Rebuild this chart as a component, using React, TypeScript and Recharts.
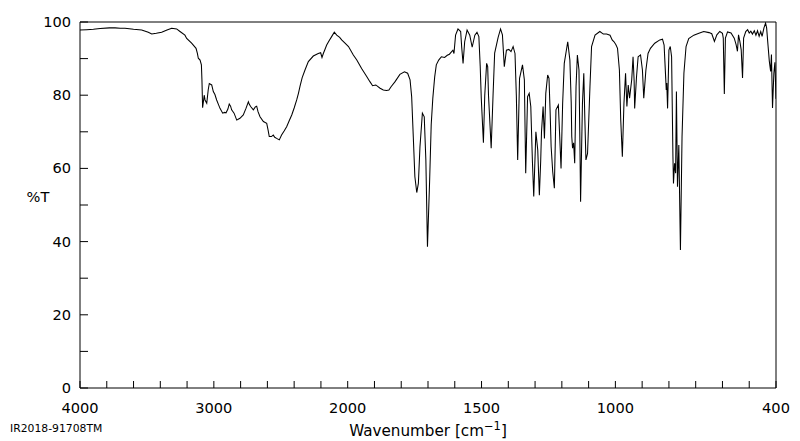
import React from 'react';
import { LineChart, Line, XAxis, YAxis, ReferenceArea } from 'recharts';

const wavenumbers = [
  4000, 3950, 3900, 3850, 3780, 3738, 3700, 3664, 3600, 3539, 3490, 3464, 3430, 3390, 3350, 3315, 3278, 3253,
  3216, 3203, 3166, 3133, 3123, 3116, 3103, 3093, 3089, 3084, 3077, 3072, 3066, 3053, 3042, 3034, 3025, 3016,
  3004, 2992, 2979, 2966, 2954, 2934, 2920, 2909, 2895, 2885, 2875, 2867, 2849, 2829, 2815, 2805, 2780, 2760,
  2742, 2735, 2725, 2705, 2690, 2680, 2670, 2655, 2630, 2605, 2595, 2586, 2570, 2556, 2545, 2531, 2511, 2494,
  2475, 2456, 2437, 2418, 2400, 2381, 2368, 2356, 2340, 2319, 2294, 2257, 2220, 2202, 2192, 2182, 2170, 2157,
  2140, 2120, 2100, 2082, 2060, 2045, 2020, 1997, 1979, 1966, 1948, 1929, 1917, 1907, 1895, 1879, 1867, 1855,
  1846, 1838, 1823, 1805, 1788, 1776, 1767, 1761, 1755, 1749, 1742, 1736, 1730, 1721, 1714, 1708, 1702, 1694,
  1688, 1682, 1675, 1669, 1660, 1650, 1638, 1628, 1620, 1607, 1603, 1597, 1588, 1578, 1574, 1569, 1563, 1554,
  1544, 1535, 1525, 1517, 1510, 1505, 1501, 1493, 1488, 1481, 1477, 1474, 1464, 1457, 1451, 1438, 1429, 1422,
  1415, 1407, 1398, 1390, 1382, 1375, 1370, 1365, 1358, 1347, 1340, 1335, 1328, 1322, 1316, 1310, 1305, 1297,
  1290, 1284, 1279, 1276, 1270, 1265, 1260, 1253, 1248, 1244, 1240, 1234, 1228, 1222, 1213, 1208, 1203, 1197,
  1191, 1178, 1170, 1165, 1163, 1160, 1156, 1152, 1147, 1142, 1136, 1133, 1130, 1123, 1118, 1114, 1110, 1104,
  1095, 1089, 1076, 1058, 1045, 1033, 1020, 1012, 1005, 998, 992, 985, 980, 974, 968, 962, 957, 952,
  947, 939, 934, 930, 928, 921, 915, 906, 899, 894, 886, 878, 869, 853, 834, 824, 818, 812,
  810, 808, 805, 800, 795, 790, 785, 783, 779, 775, 772, 768, 763, 757, 751, 744, 736, 726,
  707, 688, 670, 650, 640, 630, 621, 610, 600, 597, 593, 589, 581, 568, 556, 549, 544, 540,
  535, 530, 525, 521, 513, 506, 500, 494, 488, 481, 475, 469, 463, 457, 452, 445, 439, 435,
  430, 425, 420, 417, 413, 408, 404, 400,
];

const transmittance = [
  97.8, 97.9, 98.0, 98.2, 98.4, 98.4, 98.3, 98.3, 98.0, 97.8, 97.2, 96.7, 96.9, 97.2, 97.8, 98.3, 98.1, 97.4,
  96.4, 95.5, 94.2, 92.8, 91.4, 90.1, 89.6, 88.3, 84.2, 76.6, 78.5, 80.0, 78.7, 77.8, 81.5, 83.2, 83.0, 82.8,
  81.0, 80.2, 78.7, 77.5, 76.4, 75.1, 75.3, 75.2, 76.2, 77.6, 77.0, 76.0, 75.1, 73.2, 73.5, 73.7, 74.6, 76.4,
  78.2, 77.5, 76.9, 76.0, 76.8, 77.0, 75.5, 74.1, 72.8, 72.3, 70.5, 68.7, 68.7, 69.1, 68.5, 68.2, 67.8, 69.1,
  70.2, 71.4, 73.0, 74.6, 76.5, 78.7, 80.5, 82.5, 84.8, 86.9, 89.2, 90.7, 91.4, 91.6, 90.3, 91.4, 92.5, 93.7,
  94.8, 96.0, 97.2, 96.4, 95.8, 95.1, 94.2, 93.3, 91.0, 89.6, 87.3, 85.1, 83.7, 82.6, 82.8, 81.9, 81.4, 81.3,
  81.4, 82.3, 83.7, 85.7, 86.4, 86.0, 84.2, 79.6, 68.7, 57.7, 53.4, 55.9, 65.9, 75.1, 74.1, 62.3, 38.6, 56.4,
  72.0, 79.2, 85.0, 88.3, 89.6, 90.5, 90.3, 90.9, 91.2, 92.3, 91.4, 96.4, 98.1, 97.4, 93.0, 88.7, 94.6, 97.8,
  96.4, 93.1, 96.4, 97.2, 96.0, 88.0, 79.2, 67.0, 80.0, 88.7, 87.8, 80.0, 65.5, 80.0, 91.5, 95.8, 98.1, 96.5,
  87.8, 92.3, 92.5, 91.9, 93.3, 91.4, 80.0, 62.3, 84.6, 88.3, 84.2, 58.7, 79.6, 80.5, 76.9, 62.0, 52.3, 70.0,
  65.0, 52.7, 62.0, 70.0, 76.9, 68.2, 80.5, 85.5, 84.6, 76.0, 65.9, 59.0, 54.6, 76.0, 77.3, 68.7, 60.0, 77.8,
  88.7, 94.6, 89.6, 78.0, 68.7, 65.5, 67.0, 61.4, 82.3, 91.0, 86.9, 70.0, 50.9, 77.8, 86.0, 73.2, 62.3, 64.1,
  82.3, 93.3, 96.4, 97.4, 96.7, 96.7, 96.4, 95.1, 94.6, 93.8, 92.8, 86.9, 73.2, 63.2, 77.8, 86.0, 76.9, 82.8,
  79.2, 84.2, 90.5, 84.0, 76.4, 85.1, 90.5, 91.0, 86.9, 79.2, 86.9, 91.4, 92.8, 94.2, 95.1, 95.3, 93.7, 84.6,
  81.4, 83.3, 76.4, 92.3, 93.3, 90.5, 63.2, 55.9, 61.4, 58.7, 81.0, 55.0, 66.4, 37.7, 68.7, 86.0, 93.3, 95.5,
  96.4, 96.9, 97.4, 97.1, 96.8, 94.7, 96.5, 97.4, 96.9, 95.6, 80.3, 95.6, 97.3, 97.0, 95.6, 93.8, 92.0, 96.5,
  94.7, 92.4, 84.7, 95.6, 97.4, 97.9, 97.0, 97.5, 96.7, 97.6, 96.4, 97.6, 96.1, 97.4, 96.1, 98.4, 99.7, 98.4,
  93.8, 89.3, 86.5, 91.1, 76.5, 86.0, 89.0, 79.0,
];

const xTickWavenumbers = [
  4000, 3800, 3600, 3400, 3200, 3000, 2800, 2600, 2400, 2200, 2000, 1900, 1800, 1700, 1600, 1500, 1400,
  1300, 1200, 1100, 1000, 900, 800, 700, 600, 500, 400,
];
const xTickLabels = [4000, 3000, 2000, 1500, 1000, 400];
const yTicks = [0, 10, 20, 30, 40, 50, 60, 70, 80, 90, 100];
const yTickLabels = [0, 20, 40, 60, 80, 100];

// IR spectra use a 2x compressed scale above 2000 cm-1
const toAxis = (wn: number) => (wn > 2000 ? 2000 + (wn - 2000) / 2 : wn);
const fromAxis = (u: number) => (u > 2000 ? 2000 + (u - 2000) * 2 : u);

const data = wavenumbers.map((w, i) => ({ u: toAxis(w), t: transmittance[i] }));
const xTicks = xTickWavenumbers.map(toAxis);

const FONT = 'DejaVu Sans';

const XTick = (props: any) => {
  const { x, y, payload } = props;
  const wn = Math.round(fromAxis(payload.value));
  const show = xTickLabels.includes(wn);
  return (
    <g>
      <line x1={x} y1={y} x2={x} y2={y - 7} stroke="#000" strokeWidth={1} />
      {show && (
        <text x={x} y={y + 25} textAnchor="middle" fontSize={14.6} fontFamily={FONT} fill="#000">
          {wn}
        </text>
      )}
    </g>
  );
};

const YTick = (props: any) => {
  const { x, y, payload } = props;
  const show = yTickLabels.includes(payload.value);
  return (
    <g>
      <line x1={x} y1={y} x2={x + 8} y2={y} stroke="#000" strokeWidth={1} />
      {show && (
        <text x={x - 9} y={y + 5} textAnchor="end" fontSize={14.6} fontFamily={FONT} fill="#000">
          {payload.value}
        </text>
      )}
    </g>
  );
};

export default function App() {
  return (
    <div style={{ position: 'absolute', left: 0, top: 0, width: 800, height: 441, background: '#fff' }}>
      <LineChart width={800} height={441} data={data} margin={{ top: 22, right: 24, bottom: 23, left: 0 }}>
        <XAxis
          type="number"
          dataKey="u"
          domain={[400, 3000]}
          reversed
          ticks={xTicks}
          interval={0}
          tickSize={0}
          tickMargin={0}
          height={30}
          axisLine={false}
          tickLine={false}
          tick={<XTick />}
          allowDataOverflow
        />
        <YAxis
          type="number"
          domain={[0, 100]}
          ticks={yTicks}
          interval={0}
          tickSize={0}
          tickMargin={0}
          width={80}
          axisLine={false}
          tickLine={false}
          tick={<YTick />}
          allowDataOverflow
        />
        <Line
          type="linear"
          dataKey="t"
          stroke="#000"
          strokeWidth={1.05}
          dot={false}
          activeDot={false}
          isAnimationActive={false}
        />
        <ReferenceArea x1={3000} x2={400} y1={0} y2={100} fill="none" stroke="#000" strokeWidth={1} fillOpacity={0} />
      </LineChart>
      <svg width={800} height={441} style={{ position: 'absolute', left: 0, top: 0, pointerEvents: 'none' }}>
        <text x={38} y={202} textAnchor="middle" fontSize={14.6} fontFamily={FONT} fill="#000">%T</text>
        <text x={428} y={436} textAnchor="middle" fontSize={15.2} fontFamily={FONT} fill="#000">
          Wavenumber [cm
          <tspan fontSize={11.5} dy={-6}>−1</tspan>
          <tspan dy={6}>]</tspan>
        </text>
        <text x={10} y={432} fontSize={10.8} fontFamily={FONT} fill="#000">IR2018-91708TM</text>
      </svg>
    </div>
  );
}
